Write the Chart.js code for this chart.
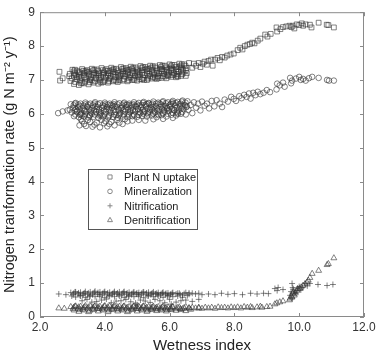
<!DOCTYPE html>
<html lang="en">
<head>
<meta charset="UTF-8">
<title>Nitrogen transformation rate</title>
<script src="https://cdn.jsdelivr.net/npm/chart.js"></script>
<style>
  html, body { margin: 0; padding: 0; background: #fff; }
  #wrap { width: 380px; height: 355px; }
</style>
</head>
<body>
<div id="wrap"><canvas id="grafico"></canvas></div>
<script>
  // values (wetness index, rate)
  const uptakePts = [
    [2.6,7.24],[2.62,6.98],[2.7,7.05],
    [3.0,7.30],[3.15,7.27],[3.3,7.32],[3.45,7.29],[3.6,7.33],[3.75,7.31],[3.9,7.35],[4.05,7.32],[4.2,7.36],[4.35,7.33],[4.5,7.38],[4.65,7.35],[4.8,7.39],[4.95,7.37],[5.1,7.41],[5.25,7.38],[5.4,7.42],[5.55,7.4],[5.7,7.44],[5.85,7.42],[6.0,7.46],[6.15,7.44],[6.3,7.48],[6.45,7.46],[6.6,7.5],
    [3.04,7.25],[3.19,7.23],[3.34,7.27],[3.49,7.24],[3.64,7.28],[3.79,7.26],[3.94,7.29],[4.09,7.27],[4.24,7.3],[4.39,7.28],[4.54,7.32],[4.69,7.3],[4.84,7.33],[4.99,7.31],[5.14,7.35],[5.29,7.33],[5.44,7.36],[5.59,7.35],[5.74,7.38],[5.89,7.37],[6.04,7.4],[6.19,7.38],[6.34,7.42],[6.49,7.41],
    [2.92,7.18],[3.07,7.2],[3.22,7.16],[3.37,7.21],[3.52,7.18],[3.67,7.22],[3.82,7.19],[3.97,7.23],[4.12,7.2],[4.27,7.24],[4.42,7.21],[4.57,7.26],[4.72,7.23],[4.87,7.27],[5.02,7.25],[5.17,7.29],[5.32,7.26],[5.47,7.3],[5.62,7.28],[5.77,7.32],[5.92,7.3],[6.07,7.34],[6.22,7.32],[6.37,7.36],[6.52,7.35],
    [2.9,7.11],[3.05,7.13],[3.2,7.1],[3.35,7.14],[3.5,7.12],[3.65,7.15],[3.8,7.13],[3.95,7.16],[4.1,7.14],[4.25,7.17],[4.4,7.15],[4.55,7.19],[4.7,7.17],[4.85,7.2],[5.0,7.19],[5.15,7.22],[5.3,7.2],[5.45,7.24],[5.6,7.22],[5.75,7.26],[5.9,7.24],[6.05,7.28],[6.2,7.26],[6.35,7.3],[6.5,7.29],
    [2.98,7.05],[3.13,7.03],[3.28,7.07],[3.43,7.04],[3.58,7.08],[3.73,7.06],[3.88,7.1],[4.03,7.07],[4.18,7.11],[4.33,7.09],[4.48,7.12],[4.63,7.1],[4.78,7.14],[4.93,7.12],[5.08,7.16],[5.23,7.14],[5.38,7.18],[5.53,7.16],[5.68,7.2],[5.83,7.18],[5.98,7.22],[6.13,7.2],[6.28,7.24],[6.43,7.22],
    [2.94,6.97],[3.09,6.94],[3.24,6.98],[3.39,6.95],[3.54,6.99],[3.69,6.96],[3.84,7.0],[3.99,6.98],[4.14,7.02],[4.29,7.0],[4.44,7.04],[4.59,7.02],[4.74,7.06],[4.89,7.04],[5.04,7.08],[5.19,7.06],[5.34,7.1],[5.49,7.08],[5.64,7.12],[5.79,7.11],[5.94,7.14],[6.09,7.14],[6.24,7.17],[6.39,7.17],
    [3.05,6.88],[3.2,6.85],[3.35,6.9],[3.5,6.87],[3.65,6.92],[3.8,6.89],[3.95,6.94],[4.1,6.92],[4.25,6.96],[4.4,6.94],[4.55,6.98],[4.7,6.96],[4.85,7.0],[5.0,6.98],[5.15,7.02],[5.3,7.0],[5.45,7.04],[5.6,7.03],[5.75,7.06],[5.9,7.05],[6.05,7.09],[6.2,7.08],[6.35,7.12],[6.5,7.12],
    [3.08,7.3],[3.23,7.22],[3.38,7.08],[3.53,6.93],[3.68,7.3],[3.83,7.06],[3.98,7.2],[4.13,6.96],[4.28,7.32],[4.43,7.1],[4.58,7.34],[4.73,7.0],[4.88,7.36],[5.03,7.14],[5.18,7.38],[5.33,7.04],[5.48,7.4],[5.63,7.1],[5.78,7.42],[5.93,7.16],[6.08,7.44],[6.23,7.12],[6.38,7.46],[6.53,7.2],
    [3.15,7.08],[3.3,6.92],[3.45,7.22],[3.6,7.0],[3.75,7.16],[3.9,6.92],[4.05,7.12],[4.2,7.26],[4.35,6.98],[4.5,7.16],[4.65,7.26],[4.8,7.08],[4.95,7.22],[5.1,7.02],[5.25,7.3],[5.4,7.12],[5.55,7.06],[5.7,7.32],[5.85,7.1],[6.0,7.34],[6.15,7.16],[6.3,7.38],
    [3.11,7.14],[3.26,6.9],[3.41,7.26],[3.56,7.04],[3.71,7.2],[3.86,6.95],[4.01,7.28],[4.16,7.06],[4.31,7.22],[4.46,6.99],[4.61,7.18],[4.76,7.3],[4.91,7.0],[5.06,7.22],[5.21,7.0],[5.36,7.32],[5.51,7.2],[5.66,7.06],[5.81,7.28],[5.96,7.12],[6.11,7.3],[6.26,7.1],[6.41,7.3],
    [6.7,7.36],[6.75,7.48],[6.82,7.42],[6.9,7.5],[6.95,7.38],[7.02,7.48],[7.08,7.54],[7.15,7.45],[7.2,7.56],[7.28,7.6],[7.33,7.42],[7.4,7.6],[7.48,7.65],[7.55,7.58],[7.62,7.68],[7.7,7.66],[7.78,7.72],[7.88,7.75],[7.98,7.78],[8.1,7.88],[8.18,7.95],[8.25,7.9],[8.32,8.0],[8.4,8.04],[8.48,8.06],[8.55,8.1],[8.62,8.08],[8.72,8.16],[8.8,8.22],[8.95,8.34],[9.02,8.28],[9.12,8.36],[9.3,8.55],[9.32,8.43],[9.42,8.5],[9.5,8.56],[9.6,8.58],[9.7,8.6],[9.76,8.56],[9.8,8.6],[9.85,8.52],[9.92,8.64],[10.0,8.62],[10.08,8.67],[10.12,8.6],[10.2,8.64],[10.33,8.63],[10.38,8.55],[10.6,8.69],[10.85,8.63],[10.9,8.62],[11.07,8.55]
  ];
  const mineralPts = [
    [2.56,6.02],[2.7,6.07],[2.85,6.1],
    [2.95,6.28],[3.1,6.32],[3.25,6.3],[3.4,6.33],[3.55,6.3],[3.7,6.34],[3.85,6.31],[4.0,6.33],[4.15,6.3],[4.3,6.34],[4.45,6.31],[4.6,6.33],[4.75,6.3],[4.9,6.34],[5.05,6.32],[5.2,6.35],[5.35,6.32],[5.5,6.36],[5.65,6.33],[5.8,6.37],[5.95,6.34],[6.1,6.38],[6.25,6.35],[6.4,6.39],[6.55,6.37],
    [3.04,6.25],[3.19,6.27],[3.34,6.24],[3.49,6.27],[3.64,6.25],[3.79,6.28],[3.94,6.25],[4.09,6.27],[4.24,6.24],[4.39,6.28],[4.54,6.25],[4.69,6.27],[4.84,6.25],[4.99,6.28],[5.14,6.26],[5.29,6.29],[5.44,6.27],[5.59,6.3],[5.74,6.27],[5.89,6.31],[6.04,6.29],[6.19,6.32],[6.34,6.3],[6.49,6.33],
    [3.02,6.18],[3.17,6.2],[3.32,6.16],[3.47,6.2],[3.62,6.17],[3.77,6.21],[3.92,6.18],[4.07,6.2],[4.22,6.17],[4.37,6.21],[4.52,6.18],[4.67,6.2],[4.82,6.17],[4.97,6.21],[5.12,6.19],[5.27,6.22],[5.42,6.19],[5.57,6.23],[5.72,6.2],[5.87,6.24],[6.02,6.21],[6.17,6.25],[6.32,6.22],[6.47,6.26],
    [2.92,6.12],[3.07,6.1],[3.22,6.13],[3.37,6.11],[3.52,6.13],[3.67,6.1],[3.82,6.12],[3.97,6.1],[4.12,6.13],[4.27,6.11],[4.42,6.13],[4.57,6.1],[4.72,6.12],[4.87,6.11],[5.02,6.14],[5.17,6.12],[5.32,6.15],[5.47,6.13],[5.62,6.16],[5.77,6.14],[5.92,6.17],[6.07,6.15],[6.22,6.18],[6.37,6.17],[6.52,6.2],
    [2.98,6.04],[3.13,6.06],[3.28,6.03],[3.43,6.07],[3.58,6.04],[3.73,6.06],[3.88,6.03],[4.03,6.07],[4.18,6.04],[4.33,6.06],[4.48,6.03],[4.63,6.07],[4.78,6.05],[4.93,6.08],[5.08,6.05],[5.23,6.09],[5.38,6.06],[5.53,6.1],[5.68,6.07],[5.83,6.11],[5.98,6.08],[6.13,6.12],[6.28,6.1],[6.43,6.14],[6.58,6.12],
    [3.09,5.98],[3.24,5.97],[3.39,5.99],[3.54,5.96],[3.69,5.98],[3.84,5.95],[3.99,5.98],[4.14,5.96],[4.29,5.98],[4.44,5.95],[4.59,5.98],[4.74,5.97],[4.89,5.99],[5.04,5.97],[5.19,6.0],[5.34,5.98],[5.49,6.01],[5.64,5.99],[5.79,6.02],[5.94,6.0],[6.09,6.03],[6.24,6.02],[6.39,6.05],
    [3.05,5.93],[3.2,5.9],[3.35,5.92],[3.5,5.89],[3.65,5.91],[3.8,5.88],[3.95,5.92],[4.1,5.89],[4.25,5.91],[4.4,5.88],[4.55,5.92],[4.7,5.9],[4.85,5.93],[5.0,5.91],[5.15,5.94],[5.3,5.92],[5.45,5.95],[5.6,5.9],[5.75,5.96],[5.9,5.92],[6.05,5.97],[6.2,5.95],[6.35,6.0],[6.5,5.98],
    [3.08,6.3],[3.23,6.22],[3.38,6.08],[3.53,5.94],[3.68,6.3],[3.83,6.06],[3.98,6.22],[4.13,5.93],[4.28,6.28],[4.43,6.1],[4.58,6.3],[4.73,6.0],[4.88,6.28],[5.03,6.14],[5.18,6.32],[5.33,6.03],[5.48,6.3],[5.63,6.1],[5.78,6.34],[5.93,6.16],[6.08,6.34],[6.23,6.06],[6.38,6.36],[6.53,6.22],
    [3.15,6.08],[3.3,5.95],[3.45,6.22],[3.6,6.0],[3.75,6.14],[3.9,5.94],[4.05,6.14],[4.2,6.26],[4.35,5.96],[4.5,6.16],[4.65,6.26],[4.8,6.08],[4.95,6.22],[5.1,6.02],[5.25,6.26],[5.4,6.12],[5.55,6.04],[5.7,6.3],[5.85,6.06],[6.0,6.26],[6.15,6.1],[6.3,6.28],
    [3.11,6.14],[3.26,5.99],[3.41,6.28],[3.56,6.1],[3.71,6.22],[3.86,5.99],[4.01,6.28],[4.16,6.1],[4.31,6.22],[4.46,5.99],[4.61,6.14],[4.76,6.25],[4.91,5.96],[5.06,6.24],[5.21,6.05],[5.36,6.3],[5.51,6.2],[5.66,5.96],[5.81,6.22],[5.96,6.1],[6.11,6.3],[6.26,6.0],[6.41,6.24],
    [3.22,5.66],[3.3,5.78],[3.42,5.64],[3.55,5.76],[3.62,5.62],[3.75,5.74],[3.85,5.6],[3.98,5.72],[4.08,5.63],[4.2,5.76],[4.3,5.66],[4.45,5.74],[4.55,5.7],[4.7,5.78],[4.85,5.8],[5.05,5.82],[5.25,5.8],[5.5,5.84],[5.8,5.85],[6.1,5.88],
    [3.36,5.7],[3.48,5.82],[3.68,5.68],[3.9,5.82],[4.02,5.78],[4.14,5.7],[4.38,5.82],[4.62,5.84],[3.26,5.84],
    [6.65,6.26],[6.7,6.02],[6.75,6.34],[6.82,6.18],[6.88,6.3],[6.95,6.1],[7.0,6.36],[7.08,6.24],[7.15,6.3],[7.22,6.16],[7.3,6.38],[7.38,6.22],[7.45,6.4],[7.55,6.3],[7.62,6.2],[7.7,6.42],[7.8,6.36],[7.9,6.5],[7.98,6.44],[8.05,6.38],[8.15,6.52],[8.22,6.46],[8.3,6.56],[8.38,6.5],[8.45,6.6],[8.5,6.45],[8.58,6.62],[8.65,6.55],[8.72,6.65],[8.8,6.58],[8.9,6.62],[9.0,6.7],[9.1,6.64],[9.3,6.72],[9.32,6.89],[9.4,6.84],[9.5,6.92],[9.55,6.8],[9.72,7.06],[9.75,6.9],[9.78,6.98],[9.9,7.04],[10.0,7.09],[10.05,7.0],[10.12,7.03],[10.2,6.98],[10.3,7.05],[10.4,7.09],[10.6,7.06],[10.86,7.0],[10.92,6.98],[11.07,6.98]
  ];
  const nitrifPts = [
    [2.58,0.68],[2.8,0.66],
    [2.95,0.72],[3.1,0.74],[3.25,0.73],[3.4,0.75],[3.55,0.74],[3.7,0.76],[3.85,0.74],[4.0,0.75],[4.15,0.73],[4.3,0.75],[4.45,0.74],[4.6,0.75],[4.75,0.73],[4.9,0.74],[5.05,0.72],[5.2,0.74],[5.35,0.73],[5.5,0.74],[5.65,0.72],[5.8,0.73],[5.95,0.71],[6.1,0.72],[6.3,0.7],[6.5,0.72],
    [3.04,0.7],[3.19,0.71],[3.34,0.69],[3.49,0.71],[3.64,0.7],[3.79,0.72],[3.94,0.7],[4.09,0.71],[4.24,0.69],[4.39,0.71],[4.54,0.7],[4.69,0.71],[4.84,0.69],[4.99,0.71],[5.14,0.7],[5.29,0.71],[5.44,0.69],[5.59,0.7],[5.74,0.69],[5.89,0.7],[6.04,0.68],[6.25,0.7],[6.45,0.69],[6.7,0.7],
    [3.02,0.66],[3.17,0.68],[3.32,0.65],[3.47,0.67],[3.62,0.66],[3.77,0.68],[3.92,0.65],[4.07,0.67],[4.22,0.66],[4.37,0.68],[4.52,0.65],[4.67,0.67],[4.82,0.66],[4.97,0.68],[5.12,0.65],[5.27,0.67],[5.42,0.66],[5.57,0.68],[5.72,0.65],[5.87,0.67],[6.02,0.66],[6.2,0.68],[6.4,0.65],[6.6,0.67],[6.8,0.68],[7.0,0.66],
    [2.98,0.62],[3.25,0.62],[3.55,0.63],[3.85,0.61],[4.15,0.63],[4.45,0.62],[4.75,0.63],[5.05,0.61],[5.35,0.63],[5.65,0.62],[5.95,0.63],[6.25,0.62],[6.55,0.63],
    [3.08,0.74],[3.23,0.64],[3.38,0.71],[3.53,0.61],[3.68,0.73],[3.83,0.66],[3.98,0.73],[4.13,0.62],[4.28,0.72],[4.43,0.66],[4.58,0.73],[4.73,0.61],[4.88,0.72],[5.03,0.66],[5.18,0.73],[5.33,0.62],[5.48,0.71],[5.63,0.66],[5.78,0.71],[5.93,0.62],[6.08,0.7],[6.33,0.66],[6.6,0.71],[6.9,0.7],
    [3.1,0.59],[3.4,0.58],[3.7,0.6],[4.0,0.57],[4.3,0.6],[4.6,0.58],[4.9,0.6],[5.2,0.57],[5.5,0.6],[5.8,0.58],[6.1,0.6],[6.4,0.58],
    [3.3,0.48],[3.6,0.44],[3.9,0.5],[4.2,0.42],[4.5,0.48],[4.8,0.45],[5.1,0.5],[5.4,0.43],[5.7,0.48],[6.0,0.52],[6.2,0.44],[6.5,0.5],[6.7,0.46],[6.9,0.52],
    [3.45,0.52],[3.75,0.46],[4.05,0.53],[4.35,0.47],[4.65,0.52],[4.95,0.41],[5.25,0.47],[5.55,0.52],[5.85,0.42],[6.35,0.48],[6.05,0.38],[5.0,0.36],
    [7.2,0.68],[7.4,0.66],[7.6,0.7],[7.8,0.67],[8.0,0.69],[8.25,0.66],[8.5,0.7],[8.7,0.68],[8.9,0.7],[9.05,0.69],[9.25,0.84],[9.32,0.78],[9.35,0.87],[9.5,0.81],[9.72,0.64],[9.78,0.55],[9.78,0.99],[9.8,0.87],[9.85,0.72],[9.93,0.78],[10.0,0.9],[10.09,0.87],[10.18,0.99],[10.25,0.92],[10.33,0.99],[10.58,0.96],[10.86,0.93],[11.04,0.96],
    [9.75,0.75],[9.82,0.82],[9.9,0.7],[9.95,0.85],[10.05,0.8]
  ];
  const denitrifPts = [
    [2.58,0.26],[2.75,0.25],
    [2.95,0.3],[3.1,0.32],[3.25,0.31],[3.4,0.33],[3.55,0.32],[3.7,0.33],[3.85,0.31],[4.0,0.33],[4.15,0.32],[4.3,0.33],[4.45,0.31],[4.6,0.32],[4.75,0.3],[4.9,0.32],[5.05,0.31],[5.2,0.32],[5.35,0.3],[5.5,0.31],[5.65,0.3],[5.8,0.31],[5.95,0.29],[6.1,0.3],[6.3,0.29],[6.5,0.3],
    [3.04,0.28],[3.19,0.29],[3.34,0.27],[3.49,0.29],[3.64,0.28],[3.79,0.29],[3.94,0.27],[4.09,0.29],[4.24,0.28],[4.39,0.29],[4.54,0.27],[4.69,0.28],[4.84,0.27],[4.99,0.29],[5.14,0.27],[5.29,0.28],[5.44,0.27],[5.59,0.28],[5.74,0.27],[5.89,0.28],[6.04,0.27],[6.25,0.27],[6.45,0.27],[6.7,0.28],[6.9,0.28],[7.1,0.28],[7.3,0.28],[7.5,0.29],[7.7,0.28],[7.9,0.29],[8.1,0.29],[8.3,0.3],[8.5,0.3],[8.8,0.31],
    [3.02,0.24],[3.17,0.25],[3.32,0.23],[3.47,0.25],[3.62,0.24],[3.77,0.25],[3.92,0.23],[4.07,0.25],[4.22,0.24],[4.37,0.25],[4.52,0.23],[4.67,0.25],[4.82,0.24],[4.97,0.25],[5.12,0.23],[5.27,0.25],[5.42,0.24],[5.57,0.25],[5.72,0.23],[5.87,0.25],[6.02,0.24],[6.2,0.25],[6.4,0.24],[6.6,0.25],[6.8,0.26],[7.0,0.25],[7.2,0.26],[7.4,0.25],[7.6,0.27],[7.8,0.26],[8.0,0.27],[8.2,0.26],[8.4,0.28],[8.55,0.27],[8.7,0.29],[8.85,0.28],[9.0,0.3],[9.1,0.31],
    [3.08,0.31],[3.23,0.22],[3.38,0.29],[3.53,0.19],[3.68,0.31],[3.83,0.24],[3.98,0.31],[4.13,0.2],[4.28,0.3],[4.43,0.23],[4.58,0.31],[4.73,0.19],[4.88,0.3],[5.03,0.24],[5.18,0.31],[5.33,0.2],[5.48,0.29],[5.63,0.23],[5.78,0.29],[5.93,0.21],[6.08,0.29],[6.33,0.24],[6.6,0.27],[6.9,0.26],
    [3.05,0.2],[3.35,0.2],[3.65,0.21],[3.95,0.2],[4.25,0.21],[4.55,0.2],[4.85,0.21],[5.15,0.2],[5.45,0.21],[5.75,0.2],[6.05,0.21],[6.35,0.21],[6.65,0.22],
    [3.2,0.16],[3.5,0.15],[3.8,0.17],[4.1,0.15],[4.4,0.17],[4.7,0.15],[5.0,0.17],[5.3,0.16],[5.6,0.18],[5.9,0.17],[6.2,0.19],[6.5,0.18],
    [9.25,0.38],[9.31,0.41],[9.4,0.44],[9.5,0.47],[9.7,0.5],[9.78,0.58],[9.8,0.7],[9.85,0.64],[9.93,0.78],[10.02,0.84],[10.12,0.93],[10.24,1.02],[10.33,1.16],[10.4,1.28],[10.6,1.37],[10.86,1.54],[10.9,1.57],[11.07,1.74],
    [9.72,0.55],[9.76,0.62],[9.82,0.74],[9.88,0.7],[9.96,0.82],[10.06,0.88],[10.18,0.97],[10.28,1.08]
  ];
  const seriesNames = ['Plant N uptake', 'Mineralization', 'Nitrification', 'Denitrification'];
  const xTicks = [2, 4, 6, 8, 10, 12];
  const yTicks = [0, 1, 2, 3, 4, 5, 6, 7, 8, 9];

  // semi-transparente: pontos isolados ficam cinza claro, nuvens densas escurecem
  const cinza = 'rgba(55,55,55,0.62)';
  const fonte = "'Liberation Sans', Arial, sans-serif";
  const estilos = [
    { pointStyle: 'rect', radius: 3.4 },
    { pointStyle: 'circle', radius: 2.8 },
    { pointStyle: 'cross', radius: 3 },
    { pointStyle: 'triangle', radius: 3.4 }
  ];
  const todos = [uptakePts, mineralPts, nitrifPts, denitrifPts];

  // moldura com marcas para dentro + legenda dentro do grafico
  const moldura = {
    id: 'moldura',
    afterDraw(chart) {
      const c = chart.ctx, a = chart.chartArea;
      const sx = chart.scales.x, sy = chart.scales.y;
      c.save();
      c.strokeStyle = '#8a8a8a';
      c.lineWidth = 1;
      c.strokeRect(a.left + 0.5, a.top + 0.5, a.right - a.left - 1, a.bottom - a.top - 1);
      c.beginPath();
      xTicks.forEach(v => {
        const px = Math.round(sx.getPixelForValue(v)) + 0.5;
        c.moveTo(px, a.bottom); c.lineTo(px, a.bottom - 4);
        c.moveTo(px, a.top); c.lineTo(px, a.top + 4);
      });
      yTicks.forEach(v => {
        const py = Math.round(sy.getPixelForValue(v)) + 0.5;
        c.moveTo(a.left, py); c.lineTo(a.left + 4, py);
        c.moveTo(a.right, py); c.lineTo(a.right - 4, py);
      });
      c.stroke();

      // legenda
      const lx = 88, ly = 169, lw = 109, lh = 60;
      c.fillStyle = '#fff';
      c.fillRect(lx, ly, lw, lh);
      c.strokeStyle = '#555';
      c.strokeRect(lx + 0.5, ly + 0.5, lw, lh);
      c.font = '11px ' + fonte;
      c.textBaseline = 'middle';
      seriesNames.forEach((nome, i) => {
        const yy = ly + 8 + i * 14.4;
        c.strokeStyle = '#888';
        c.fillStyle = 'rgba(0,0,0,0)';
        c.lineWidth = 1;
        Chart.helpers.drawPoint(c, { pointStyle: estilos[i].pointStyle, radius: estilos[i].radius - 0.5, rotation: 0, borderWidth: 1 }, lx + 22, yy);
        c.fillStyle = '#222';
        c.fillText(nome, lx + 36, yy + 1);
      });
      c.restore();
    }
  };

  const ctx = document.getElementById('grafico').getContext('2d');
  const grafico = new Chart(ctx, {
    type: 'scatter',
    data: {
      datasets: todos.map((pts, i) => ({
        label: seriesNames[i],
        data: pts.map(p => ({ x: p[0], y: p[1] })),
        pointStyle: estilos[i].pointStyle,
        pointRadius: estilos[i].radius,
        backgroundColor: 'rgba(0,0,0,0)',
        borderColor: cinza,
        borderWidth: 1
      }))
    },
    options: {
      responsive: true,
      maintainAspectRatio: false,
      animation: false,
      layout: { padding: { top: 7, right: 16, left: 0, bottom: 0 } },
      plugins: { legend: { display: false }, tooltip: { enabled: false } },
      scales: {
        x: {
          type: 'linear', min: 2, max: 12,
          afterFit(s) { s.height = 38; },
          afterBuildTicks(s) { s.ticks = xTicks.map(v => ({ value: v })); },
          grid: { display: false, drawTicks: false },
          border: { display: false },
          ticks: { color: '#333', padding: 3, font: { family: fonte, size: 12 }, callback: v => v.toFixed(1), maxRotation: 0 },
          title: { display: true, text: 'Wetness index', color: '#222', font: { family: fonte, size: 15 }, padding: { top: 0, bottom: 0 } }
        },
        y: {
          type: 'linear', min: 0, max: 9,
          afterFit(s) { s.width = 40; },
          afterBuildTicks(s) { s.ticks = yTicks.map(v => ({ value: v })); },
          grid: { display: false, drawTicks: false },
          border: { display: false },
          ticks: { color: '#333', padding: 5, font: { family: fonte, size: 12 } },
          title: { display: true, text: 'Nitrogen tranformation rate (g N m\u207B\u00B2 y\u207B\u00B9)', color: '#222', font: { family: fonte, size: 14.5 }, padding: { top: 1, bottom: 0 } }
        }
      }
    },
    plugins: [moldura]
  });
</script>
</body>
</html>
